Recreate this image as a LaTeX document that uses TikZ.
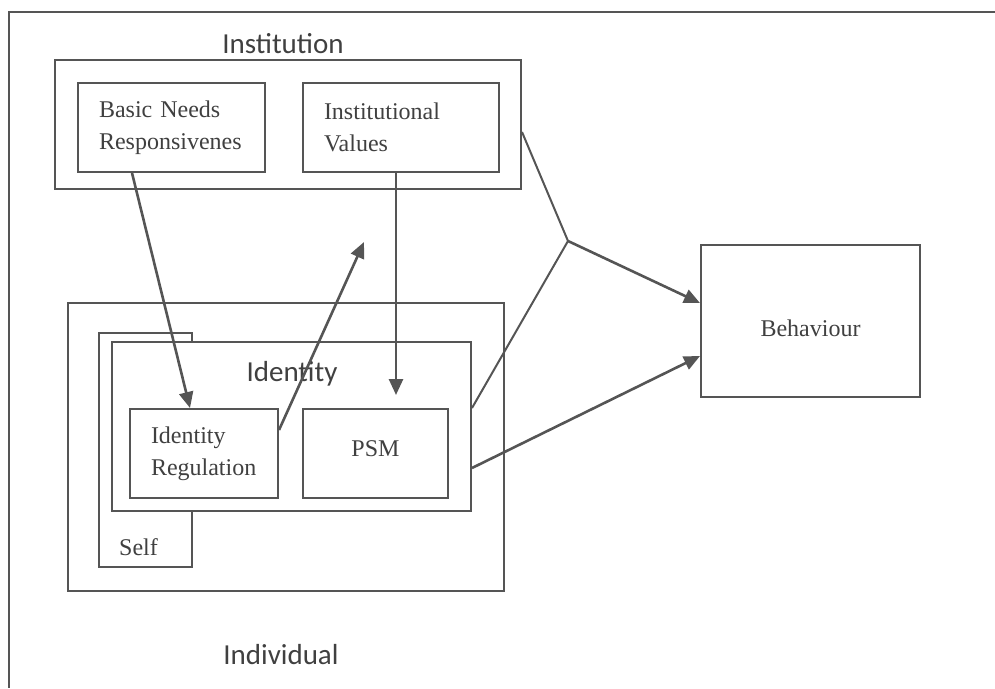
\documentclass[tikz,border=0pt]{standalone}
\usepackage{fontspec}
\setmainfont{Liberation Serif}
\newfontfamily\calfont{Carlito}
\usetikzlibrary{arrows.meta,positioning}
\definecolor{linegray}{HTML}{555555}
\definecolor{textgray}{HTML}{404040}

\begin{document}
\begin{tikzpicture}[x=1pt,y=-1pt,
    box/.style={draw=linegray, line width=2pt, fill=white, text=textgray, inner sep=0pt,
      font=\fontsize{24}{32}\selectfont},
    txtbox/.style={box, minimum height=89pt, align=left, text width=#1, inner xsep=21pt},
    lbl/.style={text=textgray, font=\calfont\fontsize{29}{34}\selectfont, anchor=base, inner sep=0pt},
    wire/.style={draw=linegray, line width=2pt},
    arr/.style={color=linegray, line width=2.6pt, -{Triangle[length=16pt,width=14pt]}}]

    \useasboundingbox (0,0) rectangle (995,688);
    \draw[wire] (995,12) -- (9,12) -- (9,688);

    \node[box, minimum width=466pt, minimum height=129pt] (inst) at (288,124.5) {};
    \node[txtbox=145pt] (needs) at (171.5,127.5) {Basic Needs\\Responsivenes};
    \node[txtbox=154pt] (values) [right=36pt of needs] {Institutional\\Values};
    \node[lbl] (instlbl) at (283,53) {Institution};

    \node[box, minimum width=436pt, minimum height=288pt] (indiv) at (286,447) {};
    \node[box, minimum width=93pt, minimum height=234pt] (self) at (145.5,450) {};
    \node[box, minimum width=359pt, minimum height=169pt] (ident) at (291.5,426.5) {};
    \node[txtbox=106pt] (idreg) at (204,453.5) {Identity\\Regulation};
    \node[box, minimum width=145pt, minimum height=89pt, text depth=9pt] (psm) [right=23pt of idreg] {PSM};
    \node[lbl] (identlbl) at (292,381) {Identity};
    \node[text=textgray, font=\fontsize{24}{32}\selectfont, anchor=base west, inner sep=0pt]
      (selflbl) at (119,555) {Self};
    \node[lbl] (indivlbl) at (281,664) {Individual};

    \node[box, minimum width=219pt, minimum height=152pt, text height=31pt] (behav) at (810.5,321) {Behaviour};

    \coordinate (join) at (568,241);
    \coordinate (uptip) at (364,242);

    \draw[wire] ([yshift=-7.5pt]inst.east) -- (join) -- ([yshift=18.5pt]ident.east);

    \path[arr]
    ([xshift=-39.5pt]needs.south) edge ([xshift=-14pt]idreg.north)
    ([yshift=23.5pt]idreg.east) edge (uptip)
    ([xshift=-5pt]values.south) edge ([xshift=20.5pt,yshift=13pt]psm.north)
    (join) edge ([yshift=18pt]behav.west)
    ([yshift=-41.5pt]ident.east) edge ([yshift=-35pt]behav.west)
    ;

\end{tikzpicture}
\end{document}
